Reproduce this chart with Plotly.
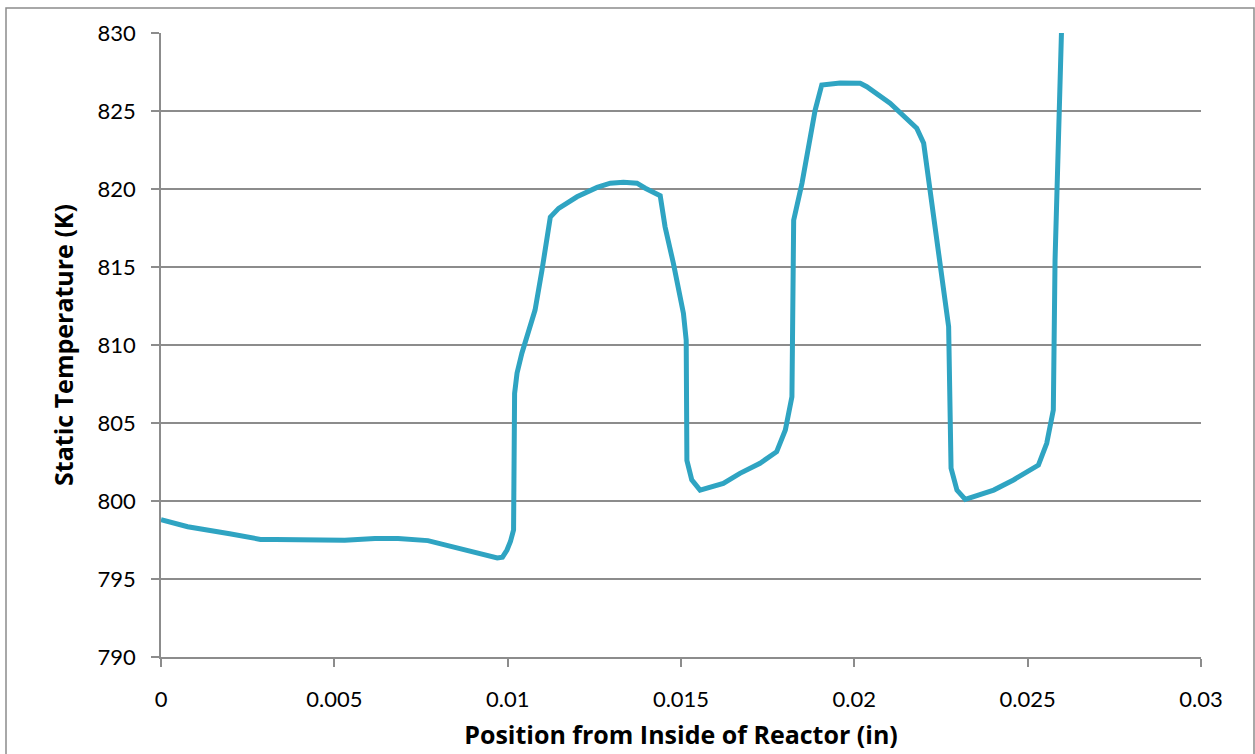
import plotly.graph_objects as go

# Position from inside of reactor (in)
position_in = [
    0.0, 0.00077, 0.00198, 0.00287, 0.0033, 0.0042, 0.0053, 0.00617, 0.00684,
    0.0077, 0.0086, 0.00915, 0.0097, 0.00985, 0.00998, 0.01008, 0.01017,
    0.0102, 0.01027, 0.01041, 0.01065, 0.01079, 0.01099, 0.01123, 0.01147,
    0.0120, 0.01258, 0.01296, 0.01334, 0.01373, 0.01397, 0.0144, 0.01454,
    0.01478, 0.01507, 0.01515, 0.01517, 0.01531, 0.01555, 0.01622, 0.0167,
    0.01728, 0.01776, 0.01801, 0.0182, 0.01825, 0.01849, 0.01887, 0.01906,
    0.01959, 0.02017, 0.02036, 0.02103, 0.0218, 0.022, 0.02248, 0.02272,
    0.02279, 0.02296, 0.0232, 0.02402, 0.02459, 0.02531, 0.02555, 0.02574,
    0.02579, 0.02594, 0.02600,
]
# Static temperature (K)
static_temp_k = [
    798.8, 798.35, 797.9, 797.54, 797.54, 797.48, 797.48, 797.59, 797.6,
    797.46, 796.97, 796.65, 796.35, 796.4, 796.86, 797.4, 798.14,
    806.9, 808.2, 809.47, 811.2, 812.24, 814.8, 818.2, 818.76,
    819.5, 820.1, 820.37, 820.43, 820.37, 820.05, 819.57, 817.58,
    815.24, 812.03, 810.3, 802.6, 801.35, 800.7, 801.13, 801.77,
    802.42, 803.16, 804.55, 806.69, 818.0, 820.37, 825.06, 826.67,
    826.8, 826.78, 826.56, 825.5, 823.9, 822.93, 815.02, 811.17,
    802.1, 800.7, 800.1, 800.7, 801.35, 802.3, 803.7, 805.83,
    815.45, 828.3, 832.0,
]

x_ticks = [0, 0.005, 0.01, 0.015, 0.02, 0.025, 0.03]
x_tick_text = ["0", "0.005", "0.01", "0.015", "0.02", "0.025", "0.03"]
y_ticks = [790, 795, 800, 805, 810, 815, 820, 825, 830]

GRID = "#8c8c8c"
TICK_FONT = "Lato, 'Open Sans', sans-serif"
TITLE_FONT = "'Open Sans', Lato, sans-serif"

fig = go.Figure()
fig.add_trace(go.Scatter(
    x=position_in, y=static_temp_k, mode="lines",
    line=dict(color="#2fa4c2", width=5, shape="linear"),
    showlegend=False, hoverinfo="x+y", cliponaxis=True,
))

L, R, T, B = 161, 54, 33, 97
W, H = 1255, 754
pw, ph = W - L - R, H - T - B

fig.update_layout(
    width=W, height=H,
    margin=dict(l=L, r=R, t=T, b=B, pad=0),
    paper_bgcolor="white", plot_bgcolor="white",
    font=dict(family=TICK_FONT, size=22, color="black"),
    xaxis=dict(
        range=[0, 0.03], tickvals=x_ticks, ticktext=x_tick_text,
        showgrid=False, zeroline=False, automargin=False,
        showline=True, linecolor=GRID, linewidth=1.5,
        ticks="outside", ticklen=8, tickcolor=GRID, tickwidth=1.5,
        ticklabelstandoff=14,
        title=dict(text="<b>Position from Inside of Reactor (in)</b>",
                   font=dict(size=25, family=TITLE_FONT), standoff=15),
    ),
    yaxis=dict(
        range=[790, 830], tickvals=y_ticks,
        showgrid=True, gridcolor=GRID, gridwidth=1.5,
        zeroline=False, automargin=False,
        showline=True, linecolor=GRID, linewidth=1.5,
        ticks="outside", ticklen=8, tickcolor=GRID, tickwidth=1.5,
        ticklabelstandoff=11,
        title=dict(text="<b>Static Temperature (K)</b>",
                   font=dict(size=25, family=TITLE_FONT), standoff=17),
    ),
    shapes=[dict(
        type="rect", xref="paper", yref="paper",
        x0=(6 - L) / pw, x1=(1254 - L) / pw,
        y0=-0.5, y1=(657 - 8) / ph,
        line=dict(color="#8c8c8c", width=1.5), fillcolor="rgba(0,0,0,0)",
        layer="below",
    )],
)

fig.write_html("out.html", config={"displayModeBar": False},
               post_script="document.body.style.margin='0';")
